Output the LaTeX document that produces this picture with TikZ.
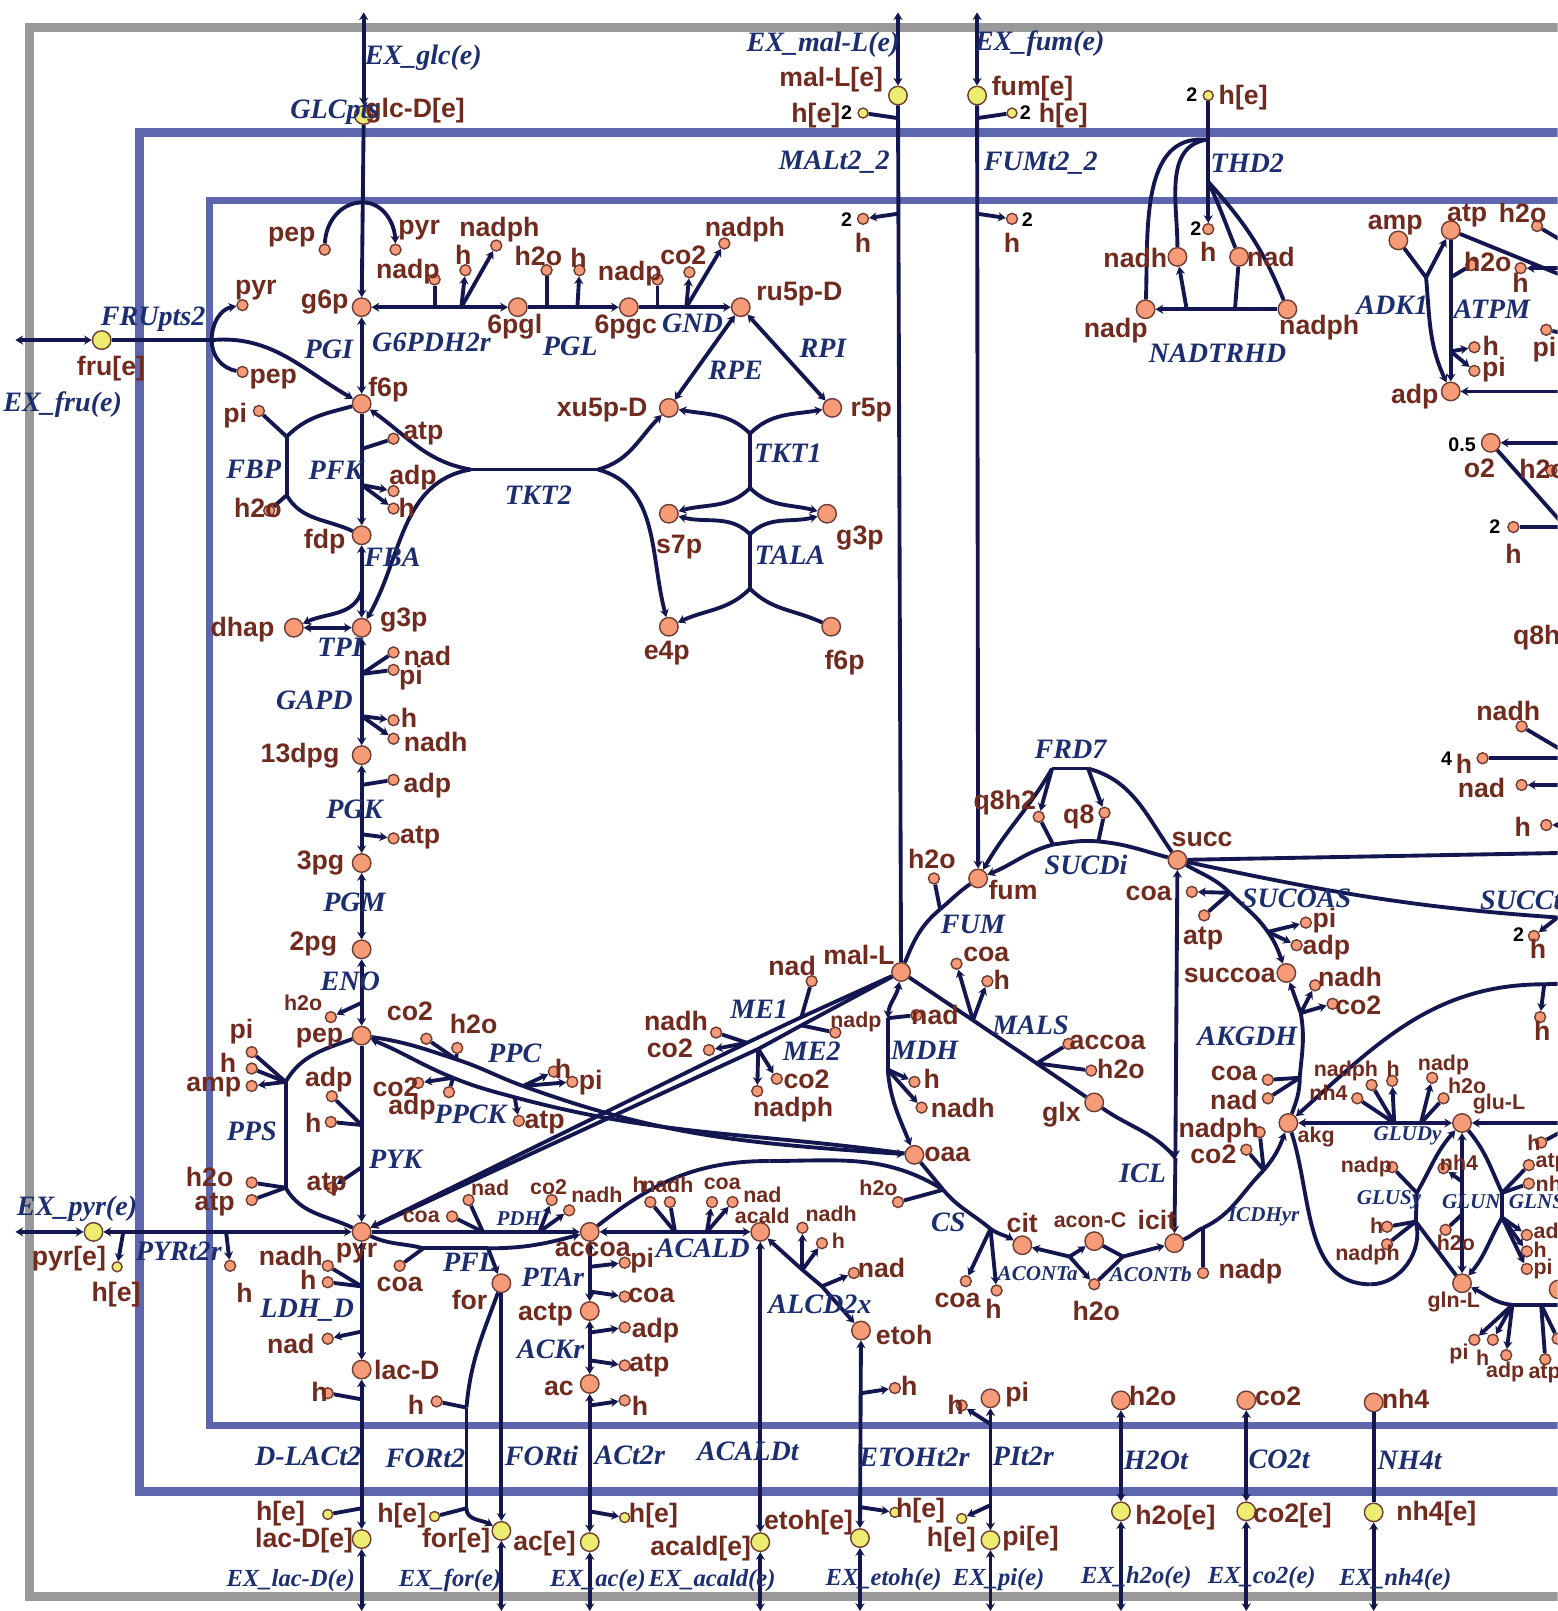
\documentclass[tikz,border=0pt]{standalone}
\usepackage{fontspec}
\usepackage{tikz}
\usetikzlibrary{arrows.meta}
\newfontfamily\metfont{Liberation Sans}
\newfontfamily\rxnfont{Liberation Serif}
\definecolor{frameblue}{RGB}{94,103,174}
\definecolor{framegray}{RGB}{153,153,153}
\definecolor{pathway}{RGB}{20,23,79}
\definecolor{metfill}{RGB}{245,155,120}
\definecolor{metline}{RGB}{110,60,50}
\definecolor{extfill}{RGB}{236,236,112}
\definecolor{mettext}{RGB}{112,42,30}
\definecolor{rxntext}{RGB}{28,46,112}
\begin{document}
\begin{tikzpicture}[x=0.010277cm, y=-0.010277cm,
  met/.style={circle, draw=metline, fill=metfill, line width=0.4pt, inner sep=0pt, minimum size=0.185cm},
  ext/.style={met, fill=extfill},
  cof/.style={met, minimum size=0.11cm},
  exs/.style={ext, minimum size=0.1cm},
  rxn/.style={draw=pathway, line width=1.1pt, >={Stealth[length=2.2pt, width=2.6pt]}},
  lab/.style={font=\metfont\bfseries\fontsize{7.6}{8}\selectfont, text=mettext, inner sep=0pt, yshift=-0.6pt},
  labs/.style={font=\metfont\bfseries\fontsize{6.1}{7}\selectfont, text=mettext, inner sep=0pt},
  num/.style={font=\metfont\bfseries\fontsize{5.6}{6}\selectfont, text=black, inner sep=0pt},
  rlab/.style={font=\rxnfont\bfseries\itshape\fontsize{8}{9}\selectfont, text=rxntext, inner sep=0pt, yshift=-0.3pt},
  rlabs/.style={font=\rxnfont\bfseries\itshape\fontsize{6}{7}\selectfont, text=rxntext, inner sep=0pt},
  rlabx/.style={font=\rxnfont\bfseries\itshape\fontsize{7}{8}\selectfont, text=rxntext, inner sep=0pt},
]
\useasboundingbox (0,0) rectangle (1516,1568);
\clip (0,0) rectangle (1516,1568);

% Compartments
\draw[framegray, line width=2.5pt] (1600,27) -| (29,1554) -- (1600,1554);
\draw[frameblue, line width=2.5pt] (1600,129) -| (136,1452) -- (1600,1452);
\draw[frameblue, line width=2pt] (1600,195) -| (204,1387) -- (1600,1387);

% Metabolites
\node[met] (g6p) at (352,299) {};
\node[met] (pgl6) at (504,299) {};
\node[met] (pgc6) at (612,299) {};
\node[met] (ru5p) at (721,299) {};
\node[met] (f6p) at (352,393) {};
\node[met] (fdp) at (352,521) {};
\node[met] (g3p) at (352,611) {};
\node[met] (dhap) at (286,611) {};
\node[met] (dpg13) at (352,735) {};
\node[met] (pg3) at (352,840) {};
\node[met] (pg2) at (352,924) {};
\node[met] (pep) at (352,1008) {};
\node[met] (pyr) at (352,1199) {};
\node[met] (xu5p) at (651,397) {};
\node[met] (r5p) at (810,397) {};
\node[met] (s7p) at (651,500) {};
\node[met] (g3pb) at (805,500) {};
\node[met] (e4p) at (651,610) {};
\node[met] (f6pb) at (809,610) {};
\node[met] (lacD) at (352,1333) {};
\node[met] (fort) at (488,1249) {};
\node[met] (accoa) at (574,1199) {};
\node[met] (acald) at (740,1199) {};
\node[met] (actp) at (574,1276) {};
\node[met] (ac) at (574,1347) {};
\node[met] (etoh) at (838,1295) {};
\node[met] (pic) at (964,1361) {};
\node[met] (h2oc) at (1091,1363) {};
\node[met] (co2c) at (1213,1363) {};
\node[met] (nh4c) at (1337,1365) {};
\node[met] (fum) at (952,855) {};
\node[met] (malL) at (877,946) {};
\node[met] (succ) at (1146,837) {};
\node[met] (oaa) at (890,1124) {};
\node[met] (glx) at (1065,1073) {};
\node[met] (cit) at (995,1212) {};
\node[met] (acon) at (1065,1208) {};
\node[met] (icit) at (1143,1210) {};
\node[met] (akg) at (1254,1093) {};
\node[met] (gluL) at (1423,1093) {};
\node[met] (glnL) at (1423,1249) {};
\node[met] (succoa) at (1252,947) {};
\node[met] (atp) at (1412,224) {};
\node[met] (amp) at (1361,234) {};
\node[met] (adp) at (1412,381) {};
\node[met] (otwo) at (1451,431) {};
\node[met] (nadh) at (1146,250) {};
\node[met] (nad) at (1206,250) {};
\node[met] (nadp) at (1115,301) {};
\node[met] (nadph) at (1253,301) {};
\node[met] (edgeb) at (1517,1255) {};

% Extracellular metabolites
\node[ext] (glce) at (354,112) {};
\node[ext] (frue) at (99,331) {};
\node[ext] (male) at (874,93) {};
\node[ext] (fume) at (951,93) {};
\node[ext] (pyre) at (91,1199) {};
\node[ext] (lace) at (352,1498) {};
\node[ext] (fore) at (488,1490) {};
\node[ext] (ace) at (574,1501) {};
\node[ext] (acalde) at (740,1501) {};
\node[ext] (etohe) at (837,1497) {};
\node[ext] (pie) at (964,1499) {};
\node[ext] (h2oe) at (1091,1471) {};
\node[ext] (co2e) at (1213,1471) {};
\node[ext] (nh4e) at (1337,1472) {};
\node[exs] (malhe) at (840,110) {};
\node[exs] (fumhe) at (985,110) {};
\node[exs] (thdhe) at (1176,93) {};
\node[exs] (pyrhe) at (114,1233) {};
\node[exs] (lache) at (319,1474) {};
\node[exs] (forhe) at (423,1476) {};
\node[exs] (achhe) at (608,1477) {};
\node[exs] (etohhe) at (871,1472) {};
\node[exs] (pihe) at (936,1478) {};

% Cofactors
\node[cof] (glcpep) at (316,243) {};
\node[cof] (glcpyr) at (385,243) {};
\node[cof] (g6nadp) at (423,272) {};
\node[cof] (g6h) at (453,263) {};
\node[cof] (g6nadph) at (483,239) {};
\node[cof] (pglh2o) at (532,263) {};
\node[cof] (pglh) at (564,263) {};
\node[cof] (gndnadp) at (640,272) {};
\node[cof] (gndco2) at (671,265) {};
\node[cof] (gndnadph) at (705,237) {};
\node[cof] (frupyr) at (236,297) {};
\node[cof] (frupep) at (236,362) {};
\node[cof] (fbppi) at (252,400) {};
\node[cof] (fbph2o) at (262,497) {};
\node[cof] (pfkatp) at (383,427) {};
\node[cof] (pfkadp) at (383,478) {};
\node[cof] (pfkh) at (383,495) {};
\node[cof] (gapnad) at (383,635) {};
\node[cof] (gappi) at (383,652) {};
\node[cof] (gaph) at (383,701) {};
\node[cof] (gapnadh) at (383,719) {};
\node[cof] (pgkadp) at (383,759) {};
\node[cof] (pgkatp) at (383,816) {};
\node[cof] (enoh2o) at (322,990) {};
\node[cof] (ppspi) at (245,1024) {};
\node[cof] (ppsh) at (245,1040) {};
\node[cof] (ppsamp) at (245,1057) {};
\node[cof] (ppsh2o) at (245,1151) {};
\node[cof] (ppsatp) at (245,1168) {};
\node[cof] (pykadp) at (323,1067) {};
\node[cof] (pykh) at (322,1092) {};
\node[cof] (pykatp) at (323,1156) {};
\node[cof] (ppcco2) at (415,1011) {};
\node[cof] (ppch2o) at (445,1020) {};
\node[cof] (ppch) at (539,1043) {};
\node[cof] (ppcpi) at (557,1053) {};
\node[cof] (ckco2) at (407,1054) {};
\node[cof] (ckadp) at (437,1063) {};
\node[cof] (ckatp) at (505,1091) {};
\node[cof] (pdhcoa) at (440,1184) {};
\node[cof] (pdhnad) at (456,1168) {};
\node[cof] (pdhco2) at (537,1168) {};
\node[cof] (pdhnadh) at (554,1178) {};
\node[cof] (pflcoa) at (389,1232) {};
\node[cof] (aldh) at (633,1170) {};
\node[cof] (aldnadh) at (652,1170) {};
\node[cof] (aldcoa) at (693,1170) {};
\node[cof] (aldnad) at (713,1170) {};
\node[cof] (pyrh) at (224,1232) {};
\node[cof] (ldhnadh) at (319,1232) {};
\node[cof] (ldhh) at (319,1248) {};
\node[cof] (ldhnad) at (319,1303) {};
\node[cof] (lach) at (319,1356) {};
\node[cof] (forh) at (425,1364) {};
\node[cof] (ptapi) at (608,1229) {};
\node[cof] (ptacoa) at (608,1262) {};
\node[cof] (ackadp) at (608,1292) {};
\node[cof] (ackatp) at (608,1329) {};
\node[cof] (ach) at (608,1363) {};
\node[cof] (adhnadh) at (781,1195) {};
\node[cof] (adhh) at (800,1210) {};
\node[cof] (adhnad) at (831,1239) {};
\node[cof] (etohh) at (871,1351) {};
\node[cof] (pih) at (936,1368) {};
\node[cof] (csh2o) at (874,1170) {};
\node[cof] (cscoa) at (940,1247) {};
\node[cof] (csh) at (970,1256) {};
\node[cof] (aconh2o) at (1065,1250) {};
\node[cof] (icdnadp) at (1171,1239) {};
\node[cof] (icdnadph) at (1226,1102) {};
\node[cof] (icdco2) at (1213,1119) {};
\node[cof] (akgcoa) at (1234,1051) {};
\node[cof] (akgnad) at (1234,1069) {};
\node[cof] (gdnh4) at (1321,1069) {};
\node[cof] (gdnadph) at (1335,1056) {};
\node[cof] (gdh) at (1355,1052) {};
\node[cof] (gdnadp) at (1394,1049) {};
\node[cof] (gdh2o) at (1405,1069) {};
\node[cof] (gsnadp) at (1355,1136) {};
\node[cof] (gsh) at (1350,1194) {};
\node[cof] (gsnadph) at (1350,1211) {};
\node[cof] (gnnh4) at (1405,1137) {};
\node[cof] (gnh2o) at (1407,1197) {};
\node[cof] (glh) at (1500,1112) {};
\node[cof] (glatp) at (1488,1134) {};
\node[cof] (glnh4) at (1488,1152) {};
\node[cof] (gladp) at (1486,1202) {};
\node[cof] (glhb) at (1486,1218) {};
\node[cof] (glpi) at (1486,1235) {};
\node[cof] (lowpi) at (1435,1304) {};
\node[cof] (lowh) at (1453,1304) {};
\node[cof] (lowadp) at (1466,1319) {};
\node[cof] (lowatp) at (1504,1323) {};
\node[cof] (lowedge) at (1516,1303) {};
\node[cof] (malh) at (840,213) {};
\node[cof] (fumh) at (985,213) {};
\node[cof] (thdh) at (1176,223) {};
\node[cof] (atmh2o) at (1496,220) {};
\node[cof] (atmh) at (1480,261) {};
\node[cof] (adkh2o) at (1432,258) {};
\node[cof] (atmpi) at (1505,321) {};
\node[cof] (adkh) at (1435,338) {};
\node[cof] (adkpi) at (1435,361) {};
\node[cof] (cytho) at (1510,458) {};
\node[cof] (cyth) at (1473,513) {};
\node[cof] (nuonadh) at (1481,707) {};
\node[cof] (nuoh) at (1443,738) {};
\node[cof] (nuonad) at (1481,764) {};
\node[cof] (nuohb) at (1505,803) {};
\node[cof] (fumh2o) at (909,855) {};
\node[cof] (qeight) at (1075,791) {};
\node[cof] (qeighth) at (1011,795) {};
\node[cof] (sucoa) at (1160,868) {};
\node[cof] (suatp) at (1172,891) {};
\node[cof] (supi) at (1271,898) {};
\node[cof] (suadp) at (1262,920) {};
\node[cof] (kgnadh) at (1280,959) {};
\node[cof] (kgco2) at (1297,977) {};
\node[cof] (scth) at (1493,911) {};
\node[cof] (arch) at (1499,990) {};
\node[cof] (mscoa) at (931,938) {};
\node[cof] (msh) at (961,955) {};
\node[cof] (msaccoa) at (1040,1016) {};
\node[cof] (msh2o) at (1062,1042) {};
\node[cof] (mdnad) at (892,988) {};
\node[cof] (mdh) at (890,1053) {};
\node[cof] (mdnadh) at (897,1078) {};
\node[cof] (menad) at (790,955) {};
\node[cof] (menadh) at (697,1005) {};
\node[cof] (meco2) at (690,1022) {};
\node[cof] (menadp) at (813,1005) {};
\node[cof] (mecotwo) at (756,1050) {};
\node[cof] (menadph) at (737,1062) {};

% Junctions
\coordinate (glctop) at (354,12);
\coordinate (maltop) at (874,12);
\coordinate (fumtop) at (951,12);
\coordinate (fruout) at (15,331);
\coordinate (pyrout) at (15,1199);
\coordinate (lacout) at (352,1568);
\coordinate (forout) at (488,1568);
\coordinate (acout) at (574,1568);
\coordinate (aldout) at (740,1568);
\coordinate (etout) at (837,1568);
\coordinate (piout) at (964,1568);
\coordinate (h2out) at (1091,1568);
\coordinate (co2out) at (1213,1568);
\coordinate (nh4out) at (1337,1568);
\coordinate (jglc) at (353,197);
\coordinate (jfru) at (206,331);
\coordinate (jg6a) at (423,299);
\coordinate (jg6b) at (449,299);
\coordinate (jpgla) at (532,299);
\coordinate (jpglb) at (562,299);
\coordinate (jgnda) at (640,299);
\coordinate (jgndb) at (668,299);
\coordinate (jtk1a) at (730,422);
\coordinate (jtk1b) at (730,475);
\coordinate (jtala) at (730,520);
\coordinate (jtalb) at (730,573);
\coordinate (jtk2a) at (458,457);
\coordinate (jtk2b) at (582,457);
\coordinate (jpfka) at (352,437);
\coordinate (jpfkb) at (352,472);
\coordinate (jfbpa) at (279,425);
\coordinate (jfbpb) at (279,482);
\coordinate (jfba) at (352,576);
\coordinate (jgapa) at (352,656);
\coordinate (jgapb) at (352,697);
\coordinate (jpgka) at (352,764);
\coordinate (jpgkb) at (352,812);
\coordinate (jeno) at (352,976);
\coordinate (jpsa) at (278,1053);
\coordinate (jpsb) at (278,1156);
\coordinate (jpyka) at (352,1095);
\coordinate (jpykb) at (352,1136);
\coordinate (jppca) at (444,1031);
\coordinate (jppcb) at (509,1057);
\coordinate (jcka) at (441,1049);
\coordinate (jckb) at (501,1068);
\coordinate (jmea) at (780,990);
\coordinate (jmeb) at (727,1015);
\coordinate (jmec) at (780,998);
\coordinate (jmed) at (738,1021);
\coordinate (jmda) at (864,991);
\coordinate (jmdb) at (864,1041);
\coordinate (jmsa) at (947,993);
\coordinate (jmsb) at (1009,1035);
\coordinate (jicl) at (1144,1127);
\coordinate (jfum) at (915,885);
\coordinate (jfrda) at (1024,748);
\coordinate (jfrdb) at (1059,748);
\coordinate (jsda) at (1025,822);
\coordinate (jsdb) at (1069,819);
\coordinate (jsua) at (1197,869);
\coordinate (jsub) at (1234,907);
\coordinate (jkga) at (1266,986);
\coordinate (jkgb) at (1265,1049);
\coordinate (jica) at (1171,1195);
\coordinate (jicb) at (1230,1139);
\coordinate (jaca) at (1041,1223);
\coordinate (jacb) at (1093,1223);
\coordinate (jcsa) at (918,1158);
\coordinate (jcsb) at (964,1196);
\coordinate (jcst) at (749,1130);
\coordinate (jpfa) at (412,1215);
\coordinate (jpfb) at (475,1215);
\coordinate (jpda) at (470,1199);
\coordinate (jpdb) at (525,1199);
\coordinate (jala) at (657,1199);
\coordinate (jalb) at (688,1199);
\coordinate (jada) at (781,1236);
\coordinate (jadb) at (800,1252);
\coordinate (jpta) at (574,1233);
\coordinate (jptb) at (574,1257);
\coordinate (jaka) at (574,1297);
\coordinate (jakb) at (574,1324);
\coordinate (jata) at (574,1368);
\coordinate (jatb) at (574,1471);
\coordinate (jeta) at (838,1356);
\coordinate (jetb) at (838,1467);
\coordinate (jpia) at (964,1386);
\coordinate (jpib) at (964,1465);
\coordinate (jlda) at (352,1252);
\coordinate (jldb) at (352,1296);
\coordinate (jdla) at (352,1362);
\coordinate (jdlb) at (352,1468);
\coordinate (jfra) at (454,1370);
\coordinate (jfrb) at (454,1468);
\coordinate (jpya) at (120,1199);
\coordinate (jpyb) at (220,1199);
\coordinate (jmha) at (874,115);
\coordinate (jmhb) at (874,208);
\coordinate (jfha) at (951,115);
\coordinate (jfhb) at (951,208);
\coordinate (jthb) at (1176,177);
\coordinate (jtha) at (1174,136);
\coordinate (jnta) at (1155,301);
\coordinate (jntb) at (1202,301);
\coordinate (jatm) at (1412,270);
\coordinate (jatb2) at (1412,342);
\coordinate (jadk) at (1388,270);
\coordinate (jgda) at (1357,1093);
\coordinate (jgdb) at (1383,1093);
\coordinate (jgsa) at (1379,1161);
\coordinate (jgsb) at (1378,1189);
\coordinate (jgsu) at (1334,1250);
\coordinate (jgna) at (1423,1150);
\coordinate (jgnb) at (1423,1182);
\coordinate (jgla) at (1462,1161);
\coordinate (jglb) at (1462,1185);
\coordinate (jlowa) at (1472,1270);
\coordinate (jlowb) at (1500,1270);
\coordinate (jarc) at (1503,958);
\coordinate (jsct) at (1516,893);
\coordinate (edgeA) at (1530,272);
\coordinate (edgeB) at (1530,261);
\coordinate (edgeC) at (1530,240);
\coordinate (edgeD) at (1530,326);
\coordinate (edgeE) at (1530,381);
\coordinate (edgeF) at (1530,431);
\coordinate (edgeG) at (1530,520);
\coordinate (edgeH) at (1530,513);
\coordinate (edgeI) at (1530,736);
\coordinate (edgeJ) at (1530,738);
\coordinate (edgeK) at (1530,764);
\coordinate (edgeL) at (1530,803);
\coordinate (edgeM) at (1530,830);
\coordinate (edgeN) at (1530,957);
\coordinate (edgeO) at (1530,1093);
\coordinate (edgeP) at (1530,1270);
\coordinate (edgeQ) at (1530,1096);

% Exchange and transport
\draw[rxn,<->] (glctop) -- (glce);
\draw[rxn,->] (glce) -- (g6p);
\draw[rxn] (jglc) to[out=180,in=88] (glcpep);
\draw[rxn,->] (jglc) to[out=0,in=92] (glcpyr);
\draw[rxn,<->] (fruout) -- (frue);
\draw[rxn] (frue) -- (jfru);
\draw[rxn,->] (jfru) to[out=90,in=190] (frupyr);
\draw[rxn] (jfru) to[out=-90,in=170] (frupep);
\draw[rxn,->] (jfru) to[out=5,in=150] (f6p);
\draw[rxn,<->] (maltop) -- (male);
\draw[rxn] (male) -- (malL);
\draw[rxn] (jmha) -- (malhe);
\draw[rxn,->] (jmhb) -- (malh);
\draw[rxn,<->] (fumtop) -- (fume);
\draw[rxn,->] (fume) -- (fum);
\draw[rxn] (jfha) -- (fumhe);
\draw[rxn,->] (jfhb) -- (fumh);
\draw[rxn,->] (thdhe) -- (thdh);
\draw[rxn,<->] (pyrout) -- (pyre);
\draw[rxn,<->] (pyre) -- (pyr);
\draw[rxn,->] (jpya) -- (pyrhe);
\draw[rxn,->] (jpyb) -- (pyrh);
\draw[rxn,<->] (lace) -- (lacout);
\draw[rxn,<->] (lacD) -- (lace);
\draw[rxn] (jdla) -- (lach);
\draw[rxn] (jdlb) -- (lache);
\draw[rxn,->] (fort) -- (fore);
\draw[rxn,<->] (fore) -- (forout);
\draw[rxn,->] (jfrb) to[out=-90,in=150] (fore);
\draw[rxn] (fort) to[out=-110,in=85] (jfra);
\draw[rxn] (jfra) -- (jfrb);
\draw[rxn] (jfra) -- (forh);
\draw[rxn] (jfrb) -- (forhe);
\draw[rxn,<->] (ace) -- (acout);
\draw[rxn,<->] (ac) -- (ace);
\draw[rxn,->] (jata) -- (ach);
\draw[rxn,->] (jatb) -- (achhe);
\draw[rxn,<->] (acald) -- (acalde);
\draw[rxn,<->] (acalde) -- (aldout);
\draw[rxn,<->] (etoh) -- (etohe);
\draw[rxn,<->] (etohe) -- (etout);
\draw[rxn,->] (jeta) -- (etohh);
\draw[rxn,->] (jetb) -- (etohhe);
\draw[rxn,<->] (pic) -- (pie);
\draw[rxn,<->] (pie) -- (piout);
\draw[rxn,->] (jpia) -- (pih);
\draw[rxn,->] (jpib) -- (pihe);
\draw[rxn,<->] (h2oc) -- (h2oe);
\draw[rxn,<->] (h2oe) -- (h2out);
\draw[rxn,<->] (co2c) -- (co2e);
\draw[rxn,<->] (co2e) -- (co2out);
\draw[rxn] (nh4c) -- (nh4e);
\draw[rxn,<->] (nh4e) -- (nh4out);

% Glycolysis
\draw[rxn,<->] (g6p) -- (f6p);
\draw[rxn,->] (f6p) -- (fdp);
\draw[rxn] (jpfka) -- (pfkatp);
\draw[rxn,->] (jpfkb) -- (pfkadp);
\draw[rxn,->] (jpfkb) -- (pfkh);
\draw[rxn] (f6p) to[out=195,in=45] (jfbpa);
\draw[rxn] (jfbpa) -- (jfbpb);
\draw[rxn] (jfbpa) -- (fbppi);
\draw[rxn] (jfbpb) -- (fbph2o);
\draw[rxn] (jfbpb) to[out=-60,in=155] (fdp);
\draw[rxn,<->] (fdp) -- (g3p);
\draw[rxn,->] (jfba) to[out=250,in=25] (dhap);
\draw[rxn,<->] (dhap) -- (g3p);
\draw[rxn,<->] (g3p) -- (dpg13);
\draw[rxn] (jgapa) -- (gapnad);
\draw[rxn] (jgapa) -- (gappi);
\draw[rxn,->] (jgapb) -- (gaph);
\draw[rxn,->] (jgapb) -- (gapnadh);
\draw[rxn,<->] (dpg13) -- (pg3);
\draw[rxn] (jpgka) -- (pgkadp);
\draw[rxn,->] (jpgkb) -- (pgkatp);
\draw[rxn,<->] (pg3) -- (pg2);
\draw[rxn,<->] (pg2) -- (pep);
\draw[rxn,->] (jeno) -- (enoh2o);
\draw[rxn,->] (pep) -- (pyr);
\draw[rxn] (jpyka) -- (pykadp);
\draw[rxn] (jpyka) -- (pykh);
\draw[rxn,->] (jpykb) to[out=215,in=35] (pykatp);
\draw[rxn] (pep) to[out=200,in=60] (jpsa);
\draw[rxn] (jpsa) -- (jpsb);
\draw[rxn] (jpsa) -- (ppspi);
\draw[rxn] (jpsa) -- (ppsh);
\draw[rxn,->] (jpsa) -- (ppsamp);
\draw[rxn] (jpsb) -- (ppsh2o);
\draw[rxn] (jpsb) -- (ppsatp);
\draw[rxn] (jpsb) to[out=-60,in=155] (pyr);

% Pentose phosphate
\draw[rxn,<->] (g6p) -- (pgl6);
\draw[rxn] (jg6a) -- (g6nadp);
\draw[rxn,->] (jg6b) -- (g6h);
\draw[rxn,->] (jg6b) -- (g6nadph);
\draw[rxn,->] (pgl6) -- (pgc6);
\draw[rxn] (jpgla) -- (pglh2o);
\draw[rxn,->] (jpglb) -- (pglh);
\draw[rxn,->] (pgc6) -- (ru5p);
\draw[rxn] (jgnda) -- (gndnadp);
\draw[rxn,->] (jgndb) -- (gndco2);
\draw[rxn,->] (jgndb) -- (gndnadph);
\draw[rxn,<->] (ru5p) -- (xu5p);
\draw[rxn,<->] (ru5p) -- (r5p);
\draw[rxn,->] (jtk1a) to[out=135,in=-10] (xu5p);
\draw[rxn,->] (jtk1a) to[out=45,in=190] (r5p);
\draw[rxn] (jtk1a) -- (jtk1b);
\draw[rxn,->] (jtk1b) to[out=225,in=15] (s7p);
\draw[rxn,->] (jtk1b) to[out=-45,in=165] (g3pb);
\draw[rxn,->] (jtala) to[out=135,in=-15] (s7p);
\draw[rxn,->] (jtala) to[out=45,in=195] (g3pb);
\draw[rxn] (jtala) -- (jtalb);
\draw[rxn,->] (jtalb) to[out=225,in=25] (e4p);
\draw[rxn] (jtalb) to[out=-45,in=155] (f6pb);
\draw[rxn] (jtk2a) -- (jtk2b);
\draw[rxn,->] (jtk2a) to[out=170,in=-35] (f6p);
\draw[rxn,->] (jtk2a) to[out=190,in=60] (g3p);
\draw[rxn,->] (jtk2b) to[out=15,in=225] (xu5p);
\draw[rxn,->] (jtk2b) to[out=-15,in=105] (e4p);

% Anaplerotic
\draw[rxn] (pep) to[out=-8,in=162] (jppca);
\draw[rxn] (jppca) to[out=-18,in=160] (jppcb);
\draw[rxn,->] (jppcb) to[out=-20,in=176] (oaa);
\draw[rxn] (jppca) -- (ppcco2);
\draw[rxn] (jppca) -- (ppch2o);
\draw[rxn,->] (jppcb) -- (ppch);
\draw[rxn,->] (jppcb) -- (ppcpi);
\draw[rxn] (oaa) to[out=172,in=-15] (jckb);
\draw[rxn] (jckb) to[out=165,in=-22] (jcka);
\draw[rxn,->] (jcka) to[out=158,in=-22] (pep);
\draw[rxn,->] (jcka) -- (ckco2);
\draw[rxn] (jcka) -- (ckadp);
\draw[rxn,->] (jckb) -- (ckatp);
\draw[rxn,->] (malL) -- (jmea) -- (jmeb) -- (pyr);
\draw[rxn,->] (malL) -- (jmec) -- (jmed) -- (pyr);
\draw[rxn] (jmea) -- (menad);
\draw[rxn] (jmeb) -- (menadh);
\draw[rxn,<-] (meco2) -- (jmeb);
\draw[rxn] (jmec) -- (menadp);
\draw[rxn,->] (jmed) -- (mecotwo);
\draw[rxn,->] (jmed) -- (menadph);

% Acetate and formate
\draw[rxn,->] (pyr) -- (accoa);
\draw[rxn] (jpda) -- (pdhcoa);
\draw[rxn] (jpda) -- (pdhnad);
\draw[rxn,->] (jpdb) -- (pdhco2);
\draw[rxn,->] (jpdb) -- (pdhnadh);
\draw[rxn] (pyr) to[out=-25,in=165] (jpfa);
\draw[rxn] (jpfa) -- (jpfb);
\draw[rxn,->] (jpfb) to[out=0,in=195] (accoa);
\draw[rxn] (jpfa) -- (pflcoa);
\draw[rxn,->] (jpfb) -- (fort);
\draw[rxn,<->] (accoa) -- (acald);
\draw[rxn] (jala) -- (aldh);
\draw[rxn] (jala) -- (aldnadh);
\draw[rxn,->] (jalb) -- (aldcoa);
\draw[rxn,->] (jalb) -- (aldnad);
\draw[rxn,<->] (acald) -- (jada) -- (jadb) -- (etoh);
\draw[rxn,->] (jada) -- (adhnadh);
\draw[rxn,->] (jada) -- (adhh);
\draw[rxn,->] (jadb) -- (adhnad);
\draw[rxn,<->] (accoa) -- (actp);
\draw[rxn,->] (jpta) -- (ptapi);
\draw[rxn,->] (jptb) -- (ptacoa);
\draw[rxn,<->] (actp) -- (ac);
\draw[rxn,->] (jaka) -- (ackadp);
\draw[rxn,->] (jakb) -- (ackatp);
\draw[rxn,<->] (pyr) -- (lacD);
\draw[rxn] (jlda) -- (ldhnadh);
\draw[rxn] (jlda) -- (ldhh);
\draw[rxn,->] (jldb) -- (ldhnad);

% TCA
\draw[rxn] (fum) to[out=215,in=40] (jfum);
\draw[rxn] (jfum) to[out=220,in=68] (malL);
\draw[rxn] (jfum) -- (fumh2o);
\draw[rxn,->] (jfrda) to[out=240,in=60] (fum);
\draw[rxn] (jfrda) -- (jfrdb);
\draw[rxn] (jfrdb) to[out=-15,in=125] (succ);
\draw[rxn,->] (jfrda) -- (qeighth);
\draw[rxn,->] (jfrdb) -- (qeight);
\draw[rxn,->] (jsda) to[out=195,in=22] (fum);
\draw[rxn] (jsda) to[out=8,in=175] (jsdb);
\draw[rxn] (jsdb) to[out=-5,in=165] (succ);
\draw[rxn] (qeighth) -- (jsda);
\draw[rxn] (qeight) -- (jsdb);
\draw[rxn,<->] (succ) -- (jicl);
\draw[rxn,->] (jicl) -- (icit);
\draw[rxn] (succ) to[out=-30,in=135] (jsua);
\draw[rxn] (jsua) to[out=-45,in=125] (jsub);
\draw[rxn,->] (jsub) to[out=-55,in=110] (succoa);
\draw[rxn,->] (jsua) -- (sucoa);
\draw[rxn] (jsua) -- (suatp);
\draw[rxn,->] (jsub) -- (supi);
\draw[rxn,->] (jsub) -- (suadp);
\draw[rxn,->] (jkga) -- (succoa);
\draw[rxn] (jkgb) to[out=85,in=-80] (jkga);
\draw[rxn] (akg) to[out=70,in=-90] (jkgb);
\draw[rxn,->] (jkga) -- (kgnadh);
\draw[rxn,->] (jkga) -- (kgco2);
\draw[rxn] (jkgb) -- (akgcoa);
\draw[rxn] (jkgb) -- (akgnad);
\draw[rxn] (icit) to[out=22,in=205] (jica);
\draw[rxn] (jica) to[out=25,in=225] (jicb);
\draw[rxn,->] (jicb) to[out=50,in=250] (akg);
\draw[rxn] (jica) -- (icdnadp);
\draw[rxn] (jicb) -- (icdnadph);
\draw[rxn] (jicb) -- (icdco2);
\draw[rxn,<-] (cit) -- (jaca);
\draw[rxn,->] (jaca) -- (acon);
\draw[rxn,->] (jaca) -- (aconh2o);
\draw[rxn] (acon) -- (jacb);
\draw[rxn] (aconh2o) -- (jacb);
\draw[rxn,->] (jacb) -- (icit);
\draw[rxn] (oaa) -- (jcsa);
\draw[rxn] (jcsa) to[out=-50,in=140] (jcsb);
\draw[rxn,->] (jcsb) to[out=-35,in=150] (cit);
\draw[rxn] (accoa) to[out=38,in=180] (jcst);
\draw[rxn] (jcst) to[out=0,in=148] (jcsa);
\draw[rxn] (jcsa) -- (csh2o);
\draw[rxn,->] (jcsb) -- (cscoa);
\draw[rxn,->] (jcsb) -- (csh);
\draw[rxn,<->] (malL) to[out=-100,in=85] (jmda);
\draw[rxn] (jmda) -- (jmdb);
\draw[rxn,->] (jmdb) to[out=-85,in=112] (oaa);
\draw[rxn] (jmda) -- (mdnad);
\draw[rxn,->] (jmdb) -- (mdh);
\draw[rxn,->] (jmdb) -- (mdnadh);
\draw[rxn] (malL) -- (jmsa) -- (jmsb) -- (glx);
\draw[rxn,->] (jmsa) -- (mscoa);
\draw[rxn,->] (jmsa) -- (msh);
\draw[rxn] (jmsb) -- (msaccoa);
\draw[rxn] (jmsb) -- (msh2o);
\draw[rxn] (glx) to[out=-35,in=130] (jicl);

% Nitrogen
\draw[rxn,<->] (akg) -- (gluL);
\draw[rxn] (jgda) -- (gdnh4);
\draw[rxn] (jgda) -- (gdnadph);
\draw[rxn,->] (jgda) -- (gdh);
\draw[rxn,->] (jgdb) -- (gdnadp);
\draw[rxn] (jgdb) -- (gdh2o);
\draw[rxn,->] (jarc) to[out=180,in=42] (akg);
\draw[rxn] (jarc) -- (edgeN);
\draw[rxn,->] (jarc) -- (arch);
\draw[rxn] (akg) to[out=-72,in=180] (jgsu);
\draw[rxn] (jgsu) to[out=0,in=-75] (jgsb);
\draw[rxn] (jgsb) -- (jgsa);
\draw[rxn,->] (jgsa) to[out=60,in=228] (gluL);
\draw[rxn] (jgsb) -- (glnL);
\draw[rxn] (jgsa) -- (gsnadp);
\draw[rxn] (jgsb) -- (gsh);
\draw[rxn] (jgsb) -- (gsnadph);
\draw[rxn,<->] (gluL) -- (glnL);
\draw[rxn,->] (jgna) -- (gnnh4);
\draw[rxn] (jgnb) -- (gnh2o);
\draw[rxn] (gluL) to[out=-50,in=115] (jgla);
\draw[rxn] (jgla) -- (jglb);
\draw[rxn,->] (jglb) to[out=-120,in=50] (glnL);
\draw[rxn] (jgla) -- (glatp);
\draw[rxn] (jgla) -- (glnh4);
\draw[rxn,->] (jglb) -- (gladp);
\draw[rxn,->] (jglb) -- (glhb);
\draw[rxn,->] (jglb) -- (glpi);
\draw[rxn,->] (jlowa) to[out=175,in=-25] (glnL);
\draw[rxn] (jlowa) -- (edgeP);
\draw[rxn,->] (jlowa) -- (lowpi);
\draw[rxn,->] (jlowa) -- (lowh);
\draw[rxn,->] (jlowa) -- (lowadp);
\draw[rxn] (jlowb) -- (lowatp);
\draw[rxn] (jlowb) -- (lowedge);
\draw[rxn,->] (edgeO) -- (gluL);
\draw[rxn] (edgeQ) -- (glh);

% Energy
\draw[rxn,<-] (nadp) -- (nadph);
\draw[rxn,->] (jnta) -- (nadh);
\draw[rxn] (jntb) -- (nad);
\draw[rxn] (jtha) to[out=175,in=88] (nadp);
\draw[rxn] (jtha) to[out=190,in=90] (nadh);
\draw[rxn] (jthb) to[out=-65,in=112] (nad);
\draw[rxn] (jthb) to[out=-48,in=112] (nadph);
\draw[rxn,->] (atp) -- (adp);
\draw[rxn] (jatm) -- (adkh2o);
\draw[rxn,->] (jatb2) -- (adkh);
\draw[rxn,->] (jatb2) -- (adkpi);
\draw[rxn] (amp) -- (jadk);
\draw[rxn,->] (jadk) -- (atp);
\draw[rxn,->] (jadk) to[out=-85,in=115] (adp);
\draw[rxn] (atp) -- (edgeA);
\draw[rxn,->] (edgeB) -- (atmh);
\draw[rxn] (atmh2o) -- (edgeC);
\draw[rxn] (atmpi) -- (edgeD);
\draw[rxn,->] (edgeE) -- (adp);
\draw[rxn,->] (edgeF) -- (otwo);
\draw[rxn] (otwo) -- (edgeG);
\draw[rxn] (cyth) -- (edgeH);
\draw[rxn] (nuonadh) -- (edgeI);
\draw[rxn] (nuoh) -- (edgeJ);
\draw[rxn,->] (edgeK) -- (nuonad);
\draw[rxn,->] (edgeL) -- (nuohb);
\draw[rxn] (succ) -- (edgeM);
\draw[rxn] (succ) to[out=-12,in=176] (jsct);
\draw[rxn,->] (jsct) -- (scth);

% Metabolite labels
\node[lab] (Lglce) at (404,106) {glc-D[e]};
\node[lab] (Lfrue) at (108,357) {fru[e]};
\node[lab] (Lfrupyr) at (249,280) {pyr};
\node[lab] (Lfrupep) at (266,367) {pep};
\node[lab] (Lg6p) at (316,292) {g6p};
\node[lab] (Lf6p) at (378,377) {f6p};
\node[lab] (Lfbppi) at (229,402) {pi};
\node[lab] (Lpfkatp) at (412,420) {atp};
\node[lab] (Lpfkadp) at (402,463) {adp};
\node[lab] (Lpfkh) at (396,492) {h};
\node[lab] (Lfbph2o) at (251,492) {h2o};
\node[lab] (Lfdp) at (316,525) {fdp};
\node[lab] (Ldhap) at (236,611) {dhap};
\node[lab] (Lg3p) at (393,601) {g3p};
\node[lab] (Lgapnad) at (416,636) {nad};
\node[lab] (Lgappi) at (400,657) {pi};
\node[lab] (Lgaph) at (398,697) {h};
\node[lab] (Lgapnadh) at (424,720) {nadh};
\node[lab] (Ldpg13) at (292,733) {13dpg};
\node[lab] (Lpgkadp) at (416,763) {adp};
\node[lab] (Lpgkatp) at (409,813) {atp};
\node[lab] (Lpg3) at (312,838) {3pg};
\node[lab] (Lpg2) at (305,917) {2pg};
\node[labs] (Lenoh2o) at (295,976) {h2o};
\node[lab] (Lpep) at (311,1008) {pep};
\node[lab] (Lppspi) at (235,1002) {pi};
\node[lab] (Lppsh) at (222,1032) {h};
\node[lab] (Lppsamp) at (208,1056) {amp};
\node[lab] (Lppcco2) at (399,982) {co2};
\node[lab] (Lppch2o) at (461,995) {h2o};
\node[lab] (Lpykadp) at (320,1049) {adp};
\node[lab] (Lckco2) at (385,1056) {co2};
\node[lab] (Lckadp) at (401,1076) {adp};
\node[lab] (Lpykh) at (305,1091) {h};
\node[lab] (Lckatp) at (530,1091) {atp};
\node[lab] (Lppch) at (548,1038) {h};
\node[lab] (Lppcpi) at (575,1052) {pi};
\node[lab] (Lpykatp) at (318,1151) {atp};
\node[lab] (Lppsh2o) at (204,1143) {h2o};
\node[lab] (Lppsatp) at (209,1170) {atp};
\node[lab] (Lpyre) at (67,1223) {pyr[e]};
\node[lab] (Lpyrhe) at (113,1258) {h[e]};
\node[lab] (Lpyrh) at (238,1256) {h};
\node[lab] (Lldhnadh) at (283,1220) {nadh};
\node[lab] (Lpyr) at (347,1218) {pyr};
\node[lab] (Lldhh) at (300,1244) {h};
\node[lab] (Lldhnad) at (283,1306) {nad};
\node[lab] (LlacD) at (396,1331) {lac-D};
\node[lab] (Llach) at (311,1353) {h};
\node[lab] (Lforh) at (405,1365) {h};
\node[lab] (Lpflcoa) at (389,1248) {coa};
\node[lab] (Lfort) at (457,1263) {for};
\node[labs] (Lpdhcoa) at (410,1184) {coa};
\node[labs] (Lpdhnad) at (477,1156) {nad};
\node[labs] (Lpdhco2) at (534,1155) {co2};
\node[labs] (Lpdhnadh) at (581,1163) {nadh};
\node[labs] (Laldh) at (622,1153) {h};
\node[labs] (Laldnadh) at (650,1153) {nadh};
\node[labs] (Laldcoa) at (703,1152) {coa};
\node[labs] (Laldnad) at (742,1163) {nad};
\node[labs] (Lacald) at (742,1183) {acald};
\node[lab] (Laccoa) at (577,1214) {accoa};
\node[lab] (Lptapi) at (625,1225) {pi};
\node[lab] (Lptacoa) at (634,1259) {coa};
\node[lab] (Lactp) at (531,1277) {actp};
\node[lab] (Lackadp) at (638,1293) {adp};
\node[lab] (Lackatp) at (632,1327) {atp};
\node[lab] (Lac) at (544,1349) {ac};
\node[lab] (Lach) at (623,1366) {h};
\node[labs] (Ladhnadh) at (809,1181) {nadh};
\node[labs] (Ladhh) at (816,1208) {h};
\node[lab] (Ladhnad) at (858,1232) {nad};
\node[lab] (Letoh) at (880,1297) {etoh};
\node[lab] (Letohh) at (885,1347) {h};
\node[lab] (Lpic) at (990,1355) {pi};
\node[lab] (Lpih) at (930,1365) {h};
\node[lab] (Lh2oc) at (1122,1357) {h2o};
\node[lab] (Lco2c) at (1244,1357) {co2};
\node[lab] (Lnh4c) at (1368,1359) {nh4};
\node[lab] (Llache) at (273,1471) {h[e]};
\node[lab] (Llace) at (296,1497) {lac-D[e]};
\node[lab] (Lforhe) at (391,1473) {h[e]};
\node[lab] (Lfore) at (444,1497) {for[e]};
\node[lab] (Lace) at (530,1500) {ac[e]};
\node[lab] (Lachhe) at (636,1473) {h[e]};
\node[lab] (Lacalde) at (682,1505) {acald[e]};
\node[lab] (Letohe) at (787,1480) {etoh[e]};
\node[lab] (Letohhe) at (896,1468) {h[e]};
\node[lab] (Lpihe) at (926,1496) {h[e]};
\node[lab] (Lpie) at (1003,1495) {pi[e]};
\node[lab] (Lh2oe) at (1144,1475) {h2o[e]};
\node[lab] (Lco2e) at (1258,1473) {co2[e]};
\node[lab] (Lnh4e) at (1398,1471) {nh4[e]};
\node[lab] (Lmale) at (809,75) {mal-L[e]};
\node[lab] (Lmalhe) at (794,110) {h[e]};
\node[num] (Nmalhe) at (824,110) {2};
\node[lab] (Lfume) at (1005,84) {fum[e]};
\node[num] (Nfumhe) at (998,110) {2};
\node[lab] (Lfumhe) at (1035,110) {h[e]};
\node[num] (Nmalh) at (824,214) {2};
\node[lab] (Lmalh) at (840,234) {h};
\node[num] (Nfumh) at (1000,214) {2};
\node[lab] (Lfumh) at (985,234) {h};
\node[num] (Nthdhe) at (1160,92) {2};
\node[lab] (Lthdhe) at (1210,93) {h[e]};
\node[num] (Nthdh) at (1164,223) {2};
\node[lab] (Lthdh) at (1176,243) {h};
\node[lab] (Lnadh) at (1105,249) {nadh};
\node[lab] (Lnad) at (1237,248) {nad};
\node[lab] (Lnadp) at (1086,320) {nadp};
\node[lab] (Lnadph) at (1284,317) {nadph};
\node[lab] (Lglcpep) at (284,229) {pep};
\node[lab] (Lglcpyr) at (408,222) {pyr};
\node[lab] (Lg6nadph) at (486,221) {nadph};
\node[lab] (Lg6nadp) at (397,262) {nadp};
\node[lab] (Lg6h) at (451,246) {h};
\node[lab] (Lpglh2o) at (524,247) {h2o};
\node[lab] (Lpglh) at (563,249) {h};
\node[lab] (Lgndnadp) at (613,264) {nadp};
\node[lab] (Lgndco2) at (665,246) {co2};
\node[lab] (Lgndnadph) at (725,221) {nadph};
\node[lab] (Lru5p) at (778,284) {ru5p-D};
\node[lab] (Lpgl6) at (501,316) {6pgl};
\node[lab] (Lpgc6) at (609,316) {6pgc};
\node[lab] (Lxu5p) at (586,397) {xu5p-D};
\node[lab] (Lr5p) at (848,397) {r5p};
\node[lab] (Ls7p) at (661,530) {s7p};
\node[lab] (Lg3pb) at (837,522) {g3p};
\node[lab] (Le4p) at (649,634) {e4p};
\node[lab] (Lf6pb) at (822,643) {f6p};
\node[lab] (Lamp) at (1358,217) {amp};
\node[lab] (Latp) at (1428,208) {atp};
\node[lab] (Latmh2o) at (1482,205) {h2o};
\node[lab] (Ladkh2o) at (1448,253) {h2o};
\node[lab] (Latmh) at (1480,273) {h};
\node[lab, anchor=west] (Latmpi) at (1491,338) {pi};
\node[lab] (Ladkh) at (1451,335) {h};
\node[lab] (Ladkpi) at (1454,358) {pi};
\node[lab] (Ladp) at (1377,384) {adp};
\node[num] (Notwo) at (1423,433) {0.5};
\node[lab] (Lotwo) at (1440,454) {o2};
\node[lab, anchor=west] (Lcytho) at (1478,454) {h2o};
\node[num] (Ncyth) at (1455,513) {2};
\node[lab] (Lcyth) at (1473,537) {h};
\node[lab, anchor=west] (Lqh) at (1472,619) {q8h2};
\node[lab] (Lnuonadh) at (1468,690) {nadh};
\node[num] (Nnuoh) at (1408,738) {4};
\node[lab] (Lnuoh) at (1425,741) {h};
\node[lab] (Lnuonad) at (1442,765) {nad};
\node[lab] (Lnuohb) at (1482,803) {h};
\node[lab] (Lfumh2o) at (907,834) {h2o};
\node[lab] (Lfum) at (986,864) {fum};
\node[lab] (Lqeighth) at (978,779) {q8h2};
\node[lab] (Lqeight) at (1050,793) {q8};
\node[lab] (Lsucc) at (1170,815) {succ};
\node[lab] (Lsucoa) at (1118,868) {coa};
\node[lab] (Lsuatp) at (1171,911) {atp};
\node[lab] (Lsupi) at (1289,894) {pi};
\node[lab] (Lsuadp) at (1291,920) {adp};
\node[lab] (Lsuccoa) at (1197,947) {succoa};
\node[lab] (Lkgnadh) at (1314,949) {nadh};
\node[lab] (Lkgco2) at (1322,976) {co2};
\node[num] (Nscth) at (1478,910) {2};
\node[lab] (Lscth) at (1497,921) {h};
\node[lab] (Larch) at (1501,1001) {h};
\node[lab] (Lmscoa) at (960,927) {coa};
\node[lab] (Lmsh) at (975,952) {h};
\node[lab] (Lmenad) at (771,938) {nad};
\node[lab] (LmalL) at (836,927) {mal-L};
\node[lab] (Lmenadh) at (658,992) {nadh};
\node[lab] (Lmeco2) at (652,1018) {co2};
\node[labs] (Lmenadp) at (833,995) {nadp};
\node[lab] (Lmecotwo) at (785,1048) {co2};
\node[lab] (Lmenadph) at (772,1078) {nadph};
\node[lab] (Lmdnad) at (910,986) {nad};
\node[lab] (Lmsaccoa) at (1078,1013) {accoa};
\node[lab] (Lmsh2o) at (1091,1038) {h2o};
\node[lab] (Lmdh) at (907,1048) {h};
\node[lab] (Lmdnadh) at (937,1076) {nadh};
\node[lab] (Lglx) at (1033,1083) {glx};
\node[lab] (Loaa) at (922,1122) {oaa};
\node[lab] (Lakgcoa) at (1201,1043) {coa};
\node[lab] (Lakgnad) at (1201,1069) {nad};
\node[lab] (Licdnadph) at (1186,1098) {nadph};
\node[lab] (Licdco2) at (1181,1121) {co2};
\node[labs] (Lakg) at (1281,1107) {akg};
\node[labs] (Lgdnadph) at (1310,1042) {nadph};
\node[labs] (Lgdh) at (1356,1040) {h};
\node[labs] (Lgdnadp) at (1405,1037) {nadp};
\node[labs] (Lgdnh4) at (1293,1064) {nh4};
\node[labs] (Lgdh2o) at (1428,1057) {h2o};
\node[labs] (LgluL) at (1459,1075) {glu-L};
\node[labs] (Lgsnadp) at (1330,1136) {nadp};
\node[labs] (Lgnnh4) at (1420,1132) {nh4};
\node[labs] (Lgsh) at (1340,1193) {h};
\node[labs] (Lgsnadph) at (1331,1221) {nadph};
\node[labs] (Lgnh2o) at (1417,1210) {h2o};
\node[labs] (LglnL) at (1415,1267) {gln-L};
\node[labs] (Lglh) at (1493,1112) {h};
\node[labs, anchor=west] (Lglatp) at (1494,1132) {atp};
\node[labs, anchor=west] (Lglnh4) at (1494,1152) {nh4};
\node[labs, anchor=west] (Lgladp) at (1492,1200) {adp};
\node[labs, anchor=west] (Lglhb) at (1492,1216) {h};
\node[labs, anchor=west] (Lglpi) at (1492,1235) {pi};
\node[labs] (Llowpi) at (1420,1318) {pi};
\node[labs] (Llowh) at (1443,1321) {h};
\node[labs] (Llowadp) at (1465,1335) {adp};
\node[labs, anchor=west] (Llowatp) at (1487,1337) {atp};
\node[labs] (Lcsh2o) at (855,1156) {h2o};
\node[lab] (Lcit) at (995,1188) {cit};
\node[labs] (Lacon) at (1061,1188) {acon-C};
\node[lab] (Licit) at (1126,1185) {icit};
\node[lab] (Lcscoa) at (932,1264) {coa};
\node[lab] (Lcsh) at (967,1272) {h};
\node[lab] (Laconh2o) at (1067,1274) {h2o};
\node[lab] (Licdnadp) at (1217,1236) {nadp};

% Reaction labels
\node[rlab] (EXglc) at (412,55) {EX\_glc(e)};
\node[rlab] (GLCpts) at (326,108) {GLCpts};
\node[rlab] (EXmal) at (801,43) {EX\_mal-L(e)};
\node[rlab] (EXfum) at (1012,41) {EX\_fum(e)};
\node[rlab] (MALt) at (812,157) {MALt2\_2};
\node[rlab] (FUMt) at (1013,158) {FUMt2\_2};
\node[rlab] (THD) at (1214,158) {THD2};
\node[rlab] (FRUpts) at (149,310) {FRUpts2};
\node[rlab] (EXfru) at (61,393) {EX\_fru(e)};
\node[rlab] (PGI) at (320,339) {PGI};
\node[rlab] (GPD) at (420,332) {G6PDH2r};
\node[rlab] (PGL) at (555,336) {PGL};
\node[rlab] (GND) at (674,314) {GND};
\node[rlab] (RPE) at (716,359) {RPE};
\node[rlab] (RPI) at (801,338) {RPI};
\node[rlab] (FBP) at (247,456) {FBP};
\node[rlab] (PFK) at (327,457) {PFK};
\node[rlab] (TKTb) at (524,481) {TKT2};
\node[rlab] (TKTa) at (767,440) {TKT1};
\node[rlab] (TALA) at (769,539) {TALA};
\node[rlab] (FBA) at (382,541) {FBA};
\node[rlab] (TPI) at (331,629) {TPI};
\node[rlab] (GAPD) at (306,681) {GAPD};
\node[rlab] (PGK) at (345,787) {PGK};
\node[rlab] (PGM) at (345,877) {PGM};
\node[rlab] (ENO) at (341,954) {ENO};
\node[rlab] (PPC) at (501,1024) {PPC};
\node[rlab] (PPCK) at (458,1084) {PPCK};
\node[rlab] (PPS) at (245,1100) {PPS};
\node[rlab] (PYK) at (385,1127) {PYK};
\node[rlab] (EXpyr) at (75,1175) {EX\_pyr(e)};
\node[rlab] (PYRt) at (174,1217) {PYRt2r};
\node[rlabs] (PDH) at (505,1186) {PDH};
\node[rlab] (PFL) at (457,1228) {PFL};
\node[rlab] (PTAr) at (538,1242) {PTAr};
\node[rlab] (ACKr) at (536,1312) {ACKr};
\node[rlab] (LDH) at (299,1274) {LDH\_D};
\node[rlab] (ACALD) at (684,1214) {ACALD};
\node[rlab] (ALCD) at (798,1268) {ALCD2x};
\node[rlab] (MEa) at (739,981) {ME1};
\node[rlab] (MEb) at (790,1022) {ME2};
\node[rlab] (MDH) at (900,1021) {MDH};
\node[rlab] (MALS) at (1003,997) {MALS};
\node[rlab] (FUMr) at (947,899) {FUM};
\node[rlab] (FRD) at (1042,728) {FRD7};
\node[rlab] (SUCDi) at (1057,841) {SUCDi};
\node[rlab] (SUCOAS) at (1262,873) {SUCOAS};
\node[rlab, anchor=west] (SUCCt) at (1440,875) {SUCCt};
\node[rlab] (AKGDH) at (1214,1008) {AKGDH};
\node[rlab] (CS) at (923,1189) {CS};
\node[rlab] (ICL) at (1112,1141) {ICL};
\node[rlabs] (ICDH) at (1230,1184) {ICDHyr};
\node[rlabs] (ACONTa) at (1010,1240) {ACONTa};
\node[rlabs] (ACONTb) at (1120,1240) {ACONTb};
\node[rlabs] (GLUDy) at (1370,1105) {GLUDy};
\node[rlabs] (GLUSy) at (1352,1168) {GLUSy};
\node[rlabs] (GLUN) at (1432,1170) {GLUN};
\node[rlabs, anchor=west] (GLNS) at (1468,1170) {GLNS};
\node[rlab] (NADTRHD) at (1185,343) {NADTRHD};
\node[rlab] (ADK) at (1355,296) {ADK1};
\node[rlab] (ATPM) at (1452,300) {ATPM};
\node[rlab] (DLAC) at (300,1416) {D-LACt2};
\node[rlab] (FORt) at (414,1418) {FORt2};
\node[rlab] (FORi) at (527,1416) {FORti};
\node[rlab] (ACt) at (613,1415) {ACt2r};
\node[rlab] (ACALDt) at (728,1412) {ACALDt};
\node[rlab] (ETOHt) at (890,1417) {ETOHt2r};
\node[rlab] (PIt) at (996,1416) {PIt2r};
\node[rlab] (HOt) at (1125,1420) {H2Ot};
\node[rlab] (COt) at (1245,1419) {CO2t};
\node[rlab] (NHt) at (1372,1420) {NH4t};
\node[rlabx] (EXlac) at (283,1538) {EX\_lac-D(e)};
\node[rlabx] (EXfor) at (438,1538) {EX\_for(e)};
\node[rlabx] (EXac) at (582,1538) {EX\_ac(e)};
\node[rlabx] (EXald) at (693,1538) {EX\_acald(e)};
\node[rlabx] (EXet) at (860,1537) {EX\_etoh(e)};
\node[rlabx] (EXpi) at (972,1537) {EX\_pi(e)};
\node[rlabx] (EXho) at (1106,1535) {EX\_h2o(e)};
\node[rlabx] (EXco) at (1228,1535) {EX\_co2(e)};
\node[rlabx] (EXnh) at (1358,1537) {EX\_nh4(e)};

\end{tikzpicture}
\end{document}
